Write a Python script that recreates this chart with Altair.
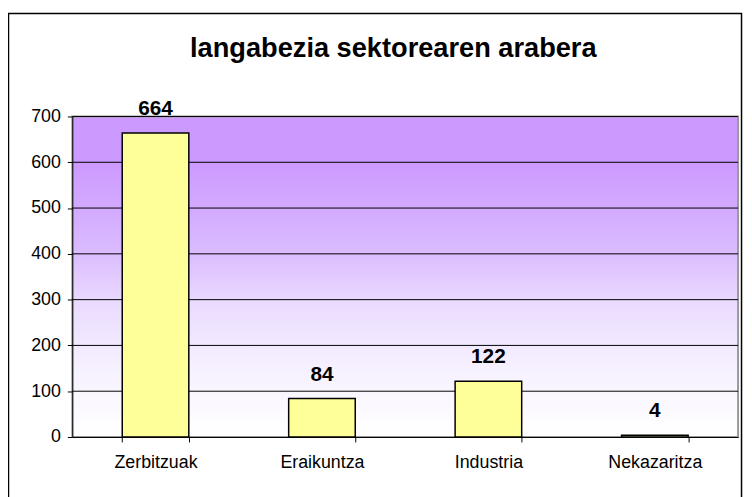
import altair as alt
import pandas as pd

# Data
sectors = ["Zerbitzuak", "Eraikuntza", "Industria", "Nekazaritza"]
values = [664, 84, 122, 4]
y_ticks = [0, 100, 200, 300, 400, 500, 600, 700]
grid_values = [100, 200, 300, 400, 500, 600, 700]
title_text = "langabezia sektorearen arabera"

W, H = 673, 324
FONT = "Liberation Sans"

df = pd.DataFrame({"Sector": sectors, "Value": values})
grid_df = pd.DataFrame({"Value": grid_values})
one = pd.DataFrame({"a": [0]})

yscale = alt.Scale(domain=[0, 700], nice=False)
xscale = alt.Scale(paddingInner=0.6, paddingOuter=0.3)

yaxis = alt.Axis(title=None, values=y_ticks, grid=False,
                 labelFontSize=18, labelColor="#000000",
                 labelPadding=7, tickSize=5, tickColor="#000000",
                 domainColor="#000000", labelFont=FONT, zindex=1)

bg = alt.Chart(one).mark_rect(
    color=alt.Gradient(
        gradient="linear", x1=0, x2=0, y1=0, y2=1,
        stops=[
            alt.GradientStop(offset=0, color="#CC99FF"),
            alt.GradientStop(offset=0.14, color="#CC99FF"),
            alt.GradientStop(offset=0.4, color="#D9B8FF"),
            alt.GradientStop(offset=0.6, color="#EBDDFF"),
            alt.GradientStop(offset=0.8, color="#F7F2FF"),
            alt.GradientStop(offset=1, color="#FFFFFF"),
        ],
    ),
    stroke="#999999", strokeWidth=2,
).encode(x=alt.value(0), x2=alt.value(W), y=alt.value(0), y2=alt.value(H))

grid = alt.Chart(grid_df).mark_rule(color="#000000", strokeWidth=1).encode(
    y=alt.Y("Value:Q", scale=yscale, axis=yaxis)
)

bars = alt.Chart(df).mark_bar(
    color="#FFFF99", stroke="#000000", strokeWidth=1.5
).encode(
    x=alt.X("Sector:N", sort=sectors, scale=xscale,
            axis=alt.Axis(title=None, labelAngle=0, tickBand="extent",
                          labelFontSize=18, labelColor="#000000",
                          labelPadding=12, tickSize=5, tickColor="#000000",
                          domainColor="#000000", labelFont=FONT, zindex=1)),
    y=alt.Y("Value:Q", scale=yscale, axis=yaxis),
)

labels = alt.Chart(df).mark_text(
    fontSize=21, fontWeight="bold", font=FONT, color="#000000",
    baseline="alphabetic", dy=-18
).encode(
    x=alt.X("Sector:N", sort=sectors, scale=xscale),
    y=alt.Y("Value:Q", scale=yscale),
    text="Value:Q",
)

frame = alt.Chart(one).mark_rect(
    fill=None, stroke="#000000", strokeWidth=1.5
).encode(x=alt.value(-64.5), x2=alt.value(676.5), y=alt.value(-104), y2=alt.value(390))

chart = alt.layer(bg, grid, bars, labels, frame).properties(
    width=W, height=H,
    title=alt.TitleParams(title_text, fontSize=27.5, fontWeight="bold", font=FONT,
                          anchor="middle", baseline="alphabetic", dx=-12,
                          offset=-72, color="#000000"),
    autosize=alt.AutoSizeParams(type="none"),
    padding={"left": 65, "top": 107, "right": 6, "bottom": 58},
).configure(font=FONT, background="#FFFFFF").configure_view(stroke=None)

chart.save("out.html", embed_options={"renderer": "svg", "actions": False})
